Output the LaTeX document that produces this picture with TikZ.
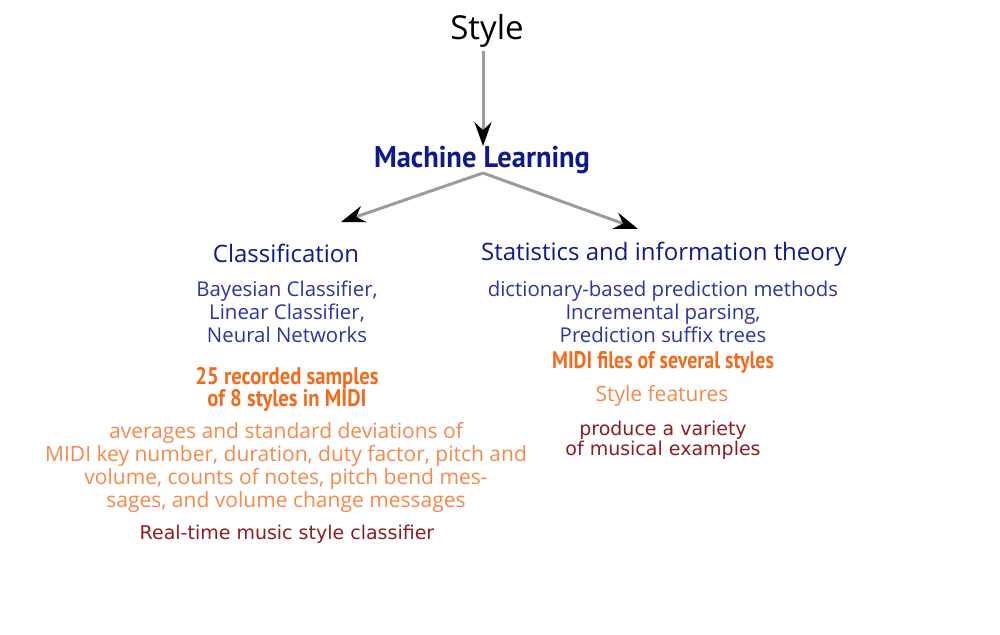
\documentclass[tikz,border=0pt]{standalone}
\usepackage{fontspec}
\setmainfont{Open Sans}
\newfontfamily\condfont{PT Sans}
\newfontfamily\redfont{DejaVu Sans}
\usetikzlibrary{arrows.meta}
\definecolor{navy}{HTML}{0D1A8C}
\definecolor{itemblue}{HTML}{2B35A0}
\definecolor{orangeB}{HTML}{F26A1B}
\definecolor{orangeL}{HTML}{F5884A}
\definecolor{darkred}{HTML}{8E1B22}
\definecolor{linegray}{HTML}{9C9C9C}
\tikzset{
  every node/.style={inner sep=0pt, outer sep=0pt, align=center},
  ttl/.style={font=\fontsize{16.5}{20}\selectfont, text=black},
  mlsty/.style={font=\condfont\bfseries\fontsize{15}{17}\selectfont, text=navy},
  head/.style={font=\fontsize{12}{15}\selectfont, text=navy},
  item/.style={font=\fontsize{10.2}{11.5}\selectfont, text=itemblue},
  boldor/.style={font=\condfont\bfseries\fontsize{12}{11}\selectfont, text=orangeB},
  lightor/.style={font=\fontsize{10.5}{11.5}\selectfont, text=orangeL},
  redtxt/.style={font=\redfont\fontsize{9.5}{10}\selectfont, text=darkred},
  conn/.style={draw=linegray, line width=1.5pt,
    -{Stealth[color=black, length=12pt, width=8.5pt, inset=4pt]}}
}
\begin{document}
\begin{tikzpicture}[x=0.5pt, y=-0.5pt]
\useasboundingbox (0,0) rectangle (1000,635);
\node[ttl] (style) at (487,31) {Style};
\node[mlsty] (ml) at (482,160) {\scalebox{0.95}[1]{Machine Learning}};
\node[head] (cls) at (286,253) {Classification};
\node[head] (stat) at (664,254) {Statistics and information theory};
\node[item] (clsitems) at (287,312) {Bayesian Classifier,\\Linear Classifier,\\Neural Networks};
\node[item] (statitems) at (663,312) {dictionary-based prediction methods\\Incremental parsing,\\Prediction suffix trees};
\node[boldor] (midi) at (663,362) {\scalebox{0.83}[1]{MIDI files of several styles}};
\node[lightor] (feat) at (662,396) {Style features};
\node[redtxt] (produce) at (663,440) {produce a variety\\of musical examples};
\node[boldor] (samples) at (287,389) {\scalebox{0.86}[1]{25 recorded samples}\\\scalebox{0.86}[1]{of 8 styles in MIDI}};
\node[lightor] (avg) at (286,467) {averages and standard deviations of\\MIDI key number, duration, duty factor, pitch and\\volume, counts of notes, pitch bend mes-\\sages, and volume change messages};
\node[redtxt] (rt) at (287,534) {Real-time music style classifier};
\coordinate (j) at (483,173);
\coordinate (lt) at (341,222);
\coordinate (rt2) at (638,229);
\draw[conn, shorten <=2pt] (style.south -| j) -- (ml.north -| j);
\draw[conn] (j) -- (lt);
\draw[conn] (j) -- (rt2);
\end{tikzpicture}
\end{document}
